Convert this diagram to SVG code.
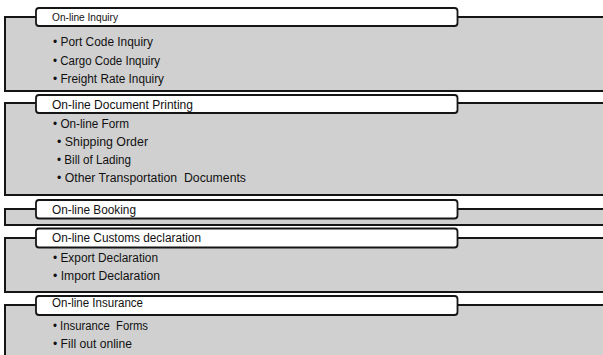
<svg xmlns="http://www.w3.org/2000/svg" width="603" height="355" viewBox="0 0 603 355">
<style>
.box{fill:#d0d0d0;stroke:#151515;stroke-width:2}
.tab{fill:#ffffff;stroke:#151515;stroke-width:1.8}
text{font-family:"Liberation Sans",Arial,sans-serif;font-size:12px;fill:#111;white-space:pre}
.small{font-size:10px}
</style>
<rect width="603" height="355" fill="#ffffff"/>
<g id="section-inquiry">
<rect class="box" x="5" y="17" width="610" height="74"/>
<rect class="tab" x="36" y="8" width="421.5" height="18" rx="3"/>
<text class="small" x="52" y="21" textLength="66" lengthAdjust="spacingAndGlyphs">On-line Inquiry</text>
<text x="53" y="45.5" textLength="100" lengthAdjust="spacingAndGlyphs">• Port Code Inquiry</text>
<text x="53" y="64.5" textLength="107" lengthAdjust="spacingAndGlyphs">• Cargo Code Inquiry</text>
<text x="53" y="83" textLength="111" lengthAdjust="spacingAndGlyphs">• Freight Rate Inquiry</text>
</g>
<g id="section-printing">
<rect class="box" x="5" y="103" width="610" height="92"/>
<rect class="tab" x="36" y="95" width="421.5" height="18" rx="3"/>
<text x="52" y="108.5" textLength="141" lengthAdjust="spacingAndGlyphs">On-line Document Printing</text>
<text x="53" y="127.5" textLength="76" lengthAdjust="spacingAndGlyphs">• On-line Form</text>
<text x="57" y="145.5" textLength="91" lengthAdjust="spacingAndGlyphs">• Shipping Order</text>
<text x="57" y="164" textLength="74" lengthAdjust="spacingAndGlyphs">• Bill of Lading</text>
<text x="57" y="182" textLength="189" lengthAdjust="spacingAndGlyphs">• Other Transportation  Documents</text>
</g>
<g id="section-booking">
<rect class="box" x="5" y="209" width="610" height="16"/>
<rect class="tab" x="36" y="200" width="421.5" height="18.5" rx="3"/>
<text x="52" y="213.5" textLength="84" lengthAdjust="spacingAndGlyphs">On-line Booking</text>
</g>
<g id="section-customs">
<rect class="box" x="5" y="238" width="610" height="54"/>
<rect class="tab" x="36" y="228.5" width="421.5" height="19" rx="3"/>
<text x="52" y="242" textLength="149" lengthAdjust="spacingAndGlyphs">On-line Customs declaration</text>
<text x="53" y="261.5" textLength="105" lengthAdjust="spacingAndGlyphs">• Export Declaration</text>
<text x="53" y="280" textLength="107" lengthAdjust="spacingAndGlyphs">• Import Declaration</text>
</g>
<g id="section-insurance">
<rect class="box" x="5" y="305" width="610" height="60"/>
<rect class="tab" x="36" y="296" width="421.5" height="19" rx="3"/>
<text x="52" y="307" textLength="91" lengthAdjust="spacingAndGlyphs">On-line Insurance</text>
<text x="53" y="329.5" textLength="95" lengthAdjust="spacingAndGlyphs">• Insurance  Forms</text>
<text x="53" y="347.5" textLength="79" lengthAdjust="spacingAndGlyphs">• Fill out online</text>
</g>
<g id="connectors"></g>
</svg>
